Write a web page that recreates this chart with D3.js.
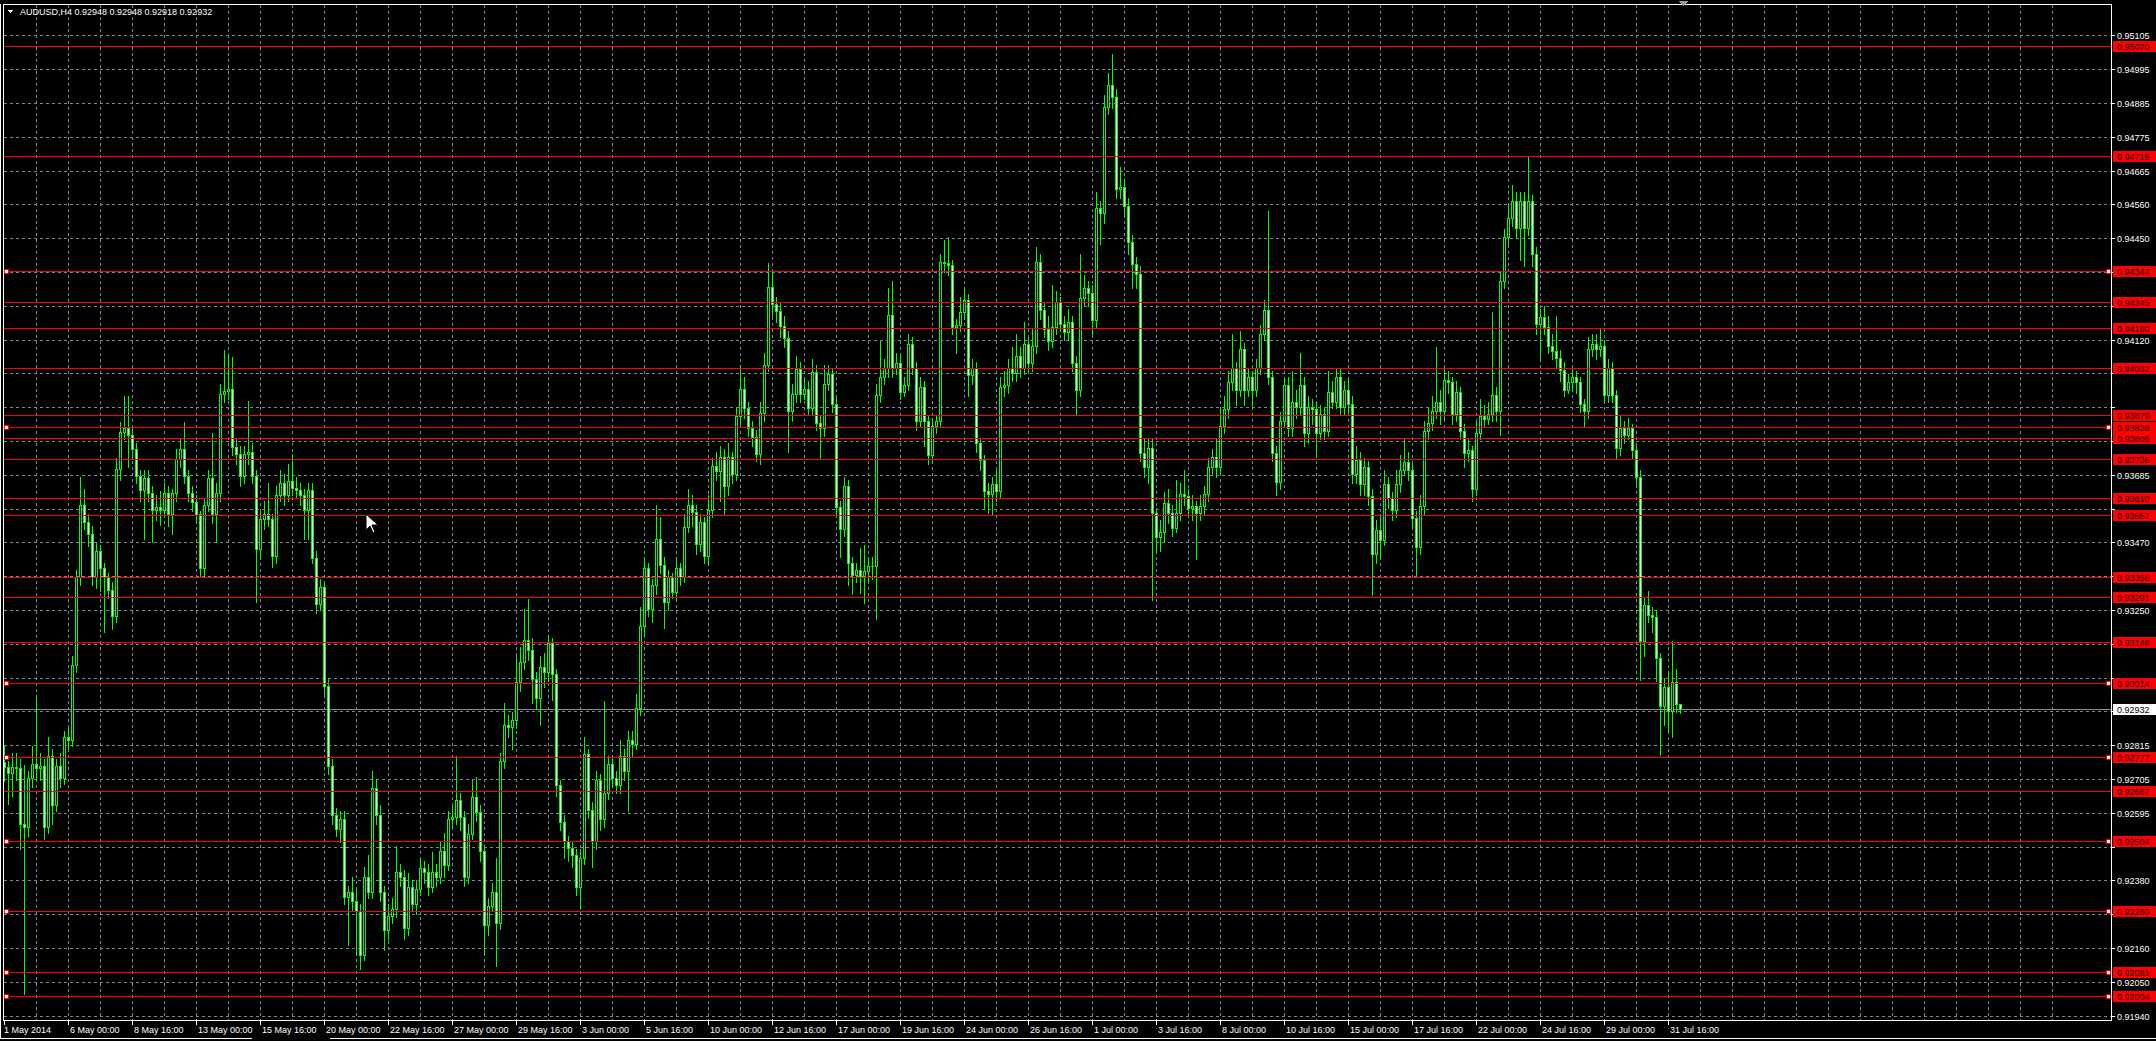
<!DOCTYPE html>
<html>
<head>
<meta charset="utf-8">
<script src="https://cdn.jsdelivr.net/npm/d3@7"></script>
<style>
  html, body { margin: 0; padding: 0; background: #000; overflow: hidden; }
  svg { display: block; }
  text { font-family: "Liberation Sans", Arial, sans-serif; font-size: 9px; }
</style>
</head>
<body>
<div id="mtChart"></div>
<script>
// AUDUSD H4 bars, 1 May - 1 Aug 2014 (open of each bar = close of previous one)
const firstOpen = 0.92760;
const closes = [
  0.92743,0.92723,0.92743,0.92739,0.92559,0.92551,0.92707,0.92754,0.92739,0.92746,
  0.92551,0.92778,0.92622,0.92746,0.92707,0.92840,0.92832,0.93074,0.93355,0.93589,
  0.93534,0.93495,0.93355,0.93441,0.93386,0.93355,0.93316,0.93230,0.93706,0.93823,
  0.93838,0.93815,0.93768,0.93682,0.93636,0.93675,0.93628,0.93573,0.93581,0.93573,
  0.93628,0.93558,0.93628,0.93737,0.93768,0.93682,0.93628,0.93597,0.93558,0.93386,
  0.93589,0.93675,0.93558,0.93628,0.93948,0.93955,0.93963,0.93776,0.93753,0.93682,
  0.93753,0.93760,0.93682,0.93448,0.93542,0.93558,0.93542,0.93425,0.93620,0.93659,
  0.93620,0.93667,0.93643,0.93636,0.93620,0.93573,0.93636,0.93417,0.93269,0.93324,
  0.93004,0.92746,0.92590,0.92544,0.92575,0.92325,0.92341,0.92310,0.92278,0.92138,
  0.92388,0.92341,0.92676,0.92590,0.92341,0.92216,0.92263,0.92286,0.92403,0.92388,
  0.92224,0.92356,0.92302,0.92349,0.92419,0.92403,0.92356,0.92403,0.92388,0.92473,
  0.92427,0.92575,0.92583,0.92637,0.92583,0.92388,0.92528,0.92645,0.92598,0.92473,
  0.92232,0.92294,0.92341,0.92239,0.92762,0.92879,0.92871,0.92895,0.93019,0.93082,
  0.93152,0.93121,0.93027,0.92965,0.93066,0.93051,0.93144,0.93043,0.92684,0.92567,
  0.92505,0.92481,0.92458,0.92356,0.92450,0.92785,0.92606,0.92505,0.92700,0.92575,
  0.92661,0.92754,0.92707,0.92684,0.92778,0.92731,0.92832,0.92817,0.92934,0.93199,
  0.93386,0.93253,0.93331,0.93480,0.93394,0.93277,0.93355,0.93308,0.93386,0.93355,
  0.93519,0.93589,0.93565,0.93464,0.93534,0.93425,0.93573,0.93714,0.93698,0.93745,
  0.93651,0.93745,0.93690,0.93877,0.93963,0.93901,0.93838,0.93807,0.93753,0.93885,
  0.94041,0.94291,0.94236,0.94213,0.94166,0.94127,0.93893,0.93948,0.94026,0.93948,
  0.93963,0.93901,0.94018,0.93854,0.93838,0.93979,0.94010,0.93916,0.93581,0.93511,
  0.93651,0.93402,0.93363,0.93378,0.93360,0.93376,0.93391,0.93391,0.93945,0.94000,
  0.94031,0.94203,0.94031,0.94047,0.93953,0.93976,0.94109,0.94031,0.93859,0.93969,
  0.93859,0.93750,0.93844,0.93859,0.94374,0.94371,0.94362,0.94164,0.94168,0.94210,
  0.94249,0.94008,0.94031,0.93789,0.93735,0.93633,0.93625,0.93657,0.93633,0.93969,
  0.93976,0.94031,0.94015,0.94070,0.94031,0.94109,0.94047,0.94101,0.94374,0.94218,
  0.94156,0.94117,0.94164,0.94242,0.94171,0.94148,0.94179,0.94047,0.93961,0.94257,
  0.94288,0.94273,0.94187,0.94546,0.94530,0.94873,0.94944,0.94905,0.94608,0.94616,
  0.94554,0.94437,0.94366,0.94335,0.93758,0.93711,0.93774,0.93563,0.93485,0.93501,
  0.93594,0.93563,0.93516,0.93563,0.93625,0.93618,0.93579,0.93586,0.93563,0.93586,
  0.93625,0.93711,0.93742,0.93711,0.93844,0.93898,0.93984,0.94031,0.93961,0.94093,
  0.93961,0.94000,0.93961,0.94031,0.94140,0.94218,0.94000,0.93758,0.93664,0.93859,
  0.93976,0.93836,0.93922,0.93906,0.93976,0.93820,0.93906,0.93898,0.93820,0.93883,
  0.93828,0.93953,0.93922,0.94000,0.93906,0.93961,0.93914,0.93688,0.93735,0.93657,
  0.93711,0.93618,0.93430,0.93508,0.93477,0.93657,0.93610,0.93571,0.93657,0.93703,
  0.93727,0.93703,0.93547,0.93454,0.93586,0.93828,0.93852,0.93891,0.93922,0.93891,
  0.93992,0.93984,0.93883,0.93953,0.93828,0.93758,0.93766,0.93641,0.93820,0.93875,
  0.93867,0.93883,0.93945,0.93891,0.94312,0.94452,0.94515,0.94569,0.94483,0.94569,
  0.94483,0.94569,0.94398,0.94171,0.94195,0.94164,0.94101,0.94086,0.94062,0.94023,
  0.93961,0.93984,0.94000,0.93984,0.93914,0.93891,0.94093,0.94109,0.94093,0.94101,
  0.93945,0.94031,0.93945,0.93774,0.93836,0.93813,0.93836,0.93766,0.93680,0.93150,
  0.93267,0.93235,0.93228,0.93095,0.92939,0.93001,0.92923,0.93017,0.92948,0.92932
];
const highs = [
  0.92810,0.92763,0.92790,0.92790,0.92770,0.92750,0.92730,0.92810,0.92973,0.92790,
  0.92770,0.92840,0.92800,0.92770,0.92790,0.92860,0.92870,0.93100,0.93380,0.93680,
  0.93640,0.93560,0.93520,0.93470,0.93460,0.93400,0.93370,0.93340,0.93740,0.93855,
  0.93940,0.93940,0.93840,0.93790,0.93700,0.93700,0.93700,0.93650,0.93620,0.93635,
  0.93660,0.93650,0.93640,0.93770,0.93800,0.93855,0.93700,0.93650,0.93620,0.93570,
  0.93610,0.93700,0.93820,0.93660,0.93980,0.94088,0.94072,0.94065,0.93800,0.93780,
  0.93780,0.93924,0.93790,0.93700,0.93570,0.93600,0.93660,0.93560,0.93650,0.93700,
  0.93690,0.93720,0.93752,0.93680,0.93660,0.93640,0.93660,0.93660,0.93440,0.93350,
  0.93340,0.93030,0.92770,0.92610,0.92600,0.92600,0.92360,0.92390,0.92350,0.92300,
  0.92420,0.92460,0.92731,0.92700,0.92620,0.92360,0.92300,0.92320,0.92490,0.92430,
  0.92410,0.92400,0.92380,0.92380,0.92450,0.92440,0.92430,0.92470,0.92430,0.92500,
  0.92530,0.92600,0.92620,0.92778,0.92660,0.92600,0.92560,0.92700,0.92710,0.92620,
  0.92490,0.92320,0.92370,0.92450,0.92790,0.92950,0.92910,0.92920,0.93100,0.93130,
  0.93253,0.93285,0.93160,0.93050,0.93100,0.93110,0.93170,0.93160,0.93060,0.92700,
  0.92590,0.92520,0.92500,0.92480,0.92480,0.92840,0.92800,0.92630,0.92730,0.92720,
  0.92957,0.92780,0.92780,0.92730,0.92830,0.92800,0.92860,0.92860,0.92980,0.93260,
  0.93420,0.93400,0.93350,0.93590,0.93550,0.93420,0.93380,0.93370,0.93420,0.93400,
  0.93560,0.93640,0.93620,0.93590,0.93560,0.93550,0.93620,0.93740,0.93760,0.93780,
  0.93770,0.93790,0.93760,0.93900,0.94040,0.94000,0.93920,0.93860,0.93830,0.93920,
  0.94080,0.94370,0.94340,0.94260,0.94240,0.94200,0.94150,0.93980,0.94070,0.94050,
  0.94000,0.93990,0.94060,0.94040,0.93880,0.94040,0.94040,0.94030,0.93940,0.93600,
  0.93680,0.93670,0.93420,0.93400,0.93450,0.93460,0.93420,0.93420,0.93980,0.94117,
  0.94060,0.94288,0.94312,0.94080,0.94070,0.94000,0.94140,0.94130,0.94050,0.94000,
  0.93990,0.93880,0.93870,0.93880,0.94400,0.94444,0.94452,0.94380,0.94190,0.94260,
  0.94290,0.94270,0.94060,0.94050,0.93800,0.93750,0.93660,0.93680,0.93700,0.94000,
  0.94020,0.94060,0.94100,0.94140,0.94100,0.94180,0.94130,0.94160,0.94420,0.94400,
  0.94240,0.94200,0.94300,0.94280,0.94260,0.94200,0.94220,0.94200,0.94070,0.94400,
  0.94330,0.94310,0.94300,0.94600,0.94570,0.94910,0.94983,0.95045,0.94930,0.94680,
  0.94640,0.94580,0.94460,0.94390,0.94360,0.93800,0.93800,0.93800,0.93580,0.93540,
  0.93630,0.93640,0.93590,0.93670,0.93660,0.93700,0.93640,0.93620,0.93600,0.93620,
  0.93650,0.93740,0.93770,0.93800,0.93900,0.93940,0.94020,0.94140,0.94050,0.94150,
  0.94110,0.94030,0.94020,0.94060,0.94170,0.94250,0.94538,0.94020,0.93780,0.93890,
  0.94000,0.94000,0.94020,0.93960,0.94080,0.94000,0.93940,0.93930,0.93920,0.93910,
  0.93900,0.94020,0.93990,0.94030,0.94030,0.93990,0.94000,0.93940,0.93780,0.93760,
  0.93740,0.93730,0.93640,0.93540,0.93560,0.93700,0.93680,0.93630,0.93700,0.93750,
  0.93800,0.93760,0.93720,0.93570,0.93620,0.93860,0.93900,0.93940,0.94100,0.93960,
  0.94030,0.94020,0.94000,0.93990,0.93970,0.93850,0.93800,0.93780,0.93860,0.93930,
  0.93910,0.93920,0.94210,0.93970,0.94340,0.94480,0.94560,0.94620,0.94600,0.94600,
  0.94600,0.94710,0.94590,0.94420,0.94220,0.94230,0.94200,0.94140,0.94200,0.94090,
  0.94050,0.94010,0.94030,0.94020,0.94000,0.93930,0.94130,0.94140,0.94140,0.94160,
  0.94120,0.94060,0.94050,0.93960,0.93880,0.93860,0.93870,0.93850,0.93790,0.93700,
  0.93290,0.93310,0.93260,0.93250,0.93110,0.93030,0.93050,0.93150,0.93060,0.92948
];
const lows = [
  0.92698,0.92623,0.92650,0.92700,0.92480,0.92010,0.92520,0.92680,0.92700,0.92700,
  0.92510,0.92530,0.92560,0.92600,0.92680,0.92690,0.92800,0.92810,0.93050,0.93330,
  0.93510,0.93455,0.93330,0.93320,0.93310,0.93180,0.93290,0.93190,0.93210,0.93670,
  0.93800,0.93710,0.93740,0.93660,0.93600,0.93480,0.93600,0.93470,0.93540,0.93525,
  0.93550,0.93520,0.93495,0.93600,0.93710,0.93660,0.93600,0.93570,0.93530,0.93360,
  0.93360,0.93570,0.93530,0.93470,0.93600,0.93920,0.93930,0.93750,0.93720,0.93650,
  0.93660,0.93720,0.93660,0.93277,0.93420,0.93510,0.93520,0.93390,0.93400,0.93600,
  0.93590,0.93600,0.93620,0.93610,0.93590,0.93480,0.93480,0.93400,0.93240,0.93250,
  0.92980,0.92720,0.92560,0.92520,0.92500,0.92300,0.92169,0.92280,0.92140,0.92091,
  0.92120,0.92320,0.92320,0.92560,0.92310,0.92154,0.92190,0.92240,0.92260,0.92360,
  0.92190,0.92200,0.92280,0.92270,0.92330,0.92370,0.92330,0.92340,0.92360,0.92370,
  0.92390,0.92410,0.92550,0.92560,0.92540,0.92360,0.92370,0.92510,0.92570,0.92440,
  0.92140,0.92200,0.92280,0.92100,0.92220,0.92740,0.92840,0.92800,0.92870,0.92990,
  0.93060,0.93090,0.92950,0.92930,0.92880,0.93000,0.93020,0.92960,0.92650,0.92540,
  0.92450,0.92440,0.92420,0.92330,0.92286,0.92430,0.92580,0.92420,0.92480,0.92540,
  0.92550,0.92640,0.92680,0.92660,0.92660,0.92700,0.92600,0.92780,0.92800,0.92910,
  0.93170,0.93230,0.93210,0.93300,0.93370,0.93191,0.93250,0.93290,0.93280,0.93330,
  0.93340,0.93500,0.93520,0.93430,0.93440,0.93400,0.93400,0.93550,0.93670,0.93600,
  0.93560,0.93620,0.93660,0.93670,0.93850,0.93870,0.93810,0.93780,0.93730,0.93720,
  0.93860,0.94020,0.94200,0.94180,0.94130,0.94100,0.93760,0.93860,0.93920,0.93920,
  0.93930,0.93880,0.93880,0.93830,0.93740,0.93810,0.93960,0.93890,0.93560,0.93420,
  0.93490,0.93330,0.93300,0.93340,0.93306,0.93274,0.93340,0.93350,0.93220,0.93920,
  0.93980,0.94000,0.94000,0.94010,0.93930,0.93940,0.93960,0.94010,0.93830,0.93840,
  0.93780,0.93720,0.93730,0.93820,0.93840,0.94340,0.94330,0.94140,0.94080,0.94150,
  0.94190,0.93940,0.93980,0.93760,0.93700,0.93580,0.93563,0.93560,0.93600,0.93610,
  0.93940,0.93950,0.93990,0.93990,0.94000,0.94010,0.94020,0.94020,0.94080,0.94190,
  0.94130,0.94090,0.94100,0.94140,0.94150,0.94120,0.94120,0.94020,0.93883,0.93940,
  0.94230,0.94230,0.94140,0.94160,0.94430,0.94500,0.94850,0.94870,0.94580,0.94580,
  0.94520,0.94400,0.94290,0.94290,0.93730,0.93680,0.93660,0.93282,0.93440,0.93440,
  0.93470,0.93530,0.93490,0.93500,0.93540,0.93590,0.93550,0.93540,0.93415,0.93540,
  0.93560,0.93600,0.93690,0.93680,0.93690,0.93820,0.93870,0.93960,0.93910,0.93940,
  0.93910,0.93940,0.93900,0.93940,0.94010,0.94120,0.93980,0.93730,0.93620,0.93640,
  0.93840,0.93810,0.93810,0.93870,0.93880,0.93780,0.93790,0.93850,0.93742,0.93800,
  0.93800,0.93810,0.93900,0.93900,0.93880,0.93880,0.93890,0.93660,0.93660,0.93620,
  0.93620,0.93590,0.93298,0.93400,0.93420,0.93460,0.93580,0.93540,0.93550,0.93630,
  0.93690,0.93670,0.93520,0.93360,0.93430,0.93560,0.93800,0.93830,0.93870,0.93850,
  0.93870,0.93950,0.93850,0.93860,0.93800,0.93710,0.93730,0.93600,0.93620,0.93800,
  0.93840,0.93850,0.93860,0.93860,0.93813,0.94290,0.94430,0.94490,0.94450,0.94380,
  0.94360,0.94460,0.94360,0.94140,0.94060,0.94140,0.94080,0.94060,0.94030,0.93990,
  0.93940,0.93950,0.93960,0.93950,0.93890,0.93844,0.93870,0.94070,0.94060,0.94070,
  0.93920,0.93920,0.93920,0.93740,0.93750,0.93790,0.93800,0.93740,0.93650,0.93025,
  0.93100,0.93210,0.93180,0.93020,0.92783,0.92880,0.92860,0.92840,0.92920,0.92918
];

// time axis: one label every 16 bars
const timeLabels = [
  "1 May 2014","6 May 00:00","8 May 16:00","13 May 00:00","15 May 16:00","20 May 00:00",
  "22 May 16:00","27 May 00:00","29 May 16:00","3 Jun 00:00","5 Jun 16:00","10 Jun 00:00",
  "12 Jun 16:00","17 Jun 00:00","19 Jun 16:00","24 Jun 00:00","26 Jun 16:00","1 Jul 00:00",
  "3 Jul 16:00","8 Jul 00:00","10 Jul 16:00","15 Jul 00:00","17 Jul 16:00","22 Jul 00:00",
  "24 Jul 16:00","29 Jul 00:00","31 Jul 16:00"
];
// price scale grid labels
const priceTicks = [
  0.95105,0.94995,0.94885,0.94775,0.94665,0.94560,0.94450,0.94340,0.94230,0.94120,
  0.94015,0.93905,0.93795,0.93685,0.93575,0.93470,0.93360,0.93250,0.93140,0.93030,
  0.92925,0.92815,0.92705,0.92595,0.92485,0.92380,0.92270,0.92160,0.92050,0.91940
];
// horizontal level lines drawn on the chart
const levelPrices = [
  0.95070,0.94715,0.94344,0.94245,0.94160,0.94032,0.93879,0.93839,0.93805,0.93736,0.93610,
  0.93557,0.93356,0.93291,0.93148,0.93014,0.92777,0.92667,0.92504,0.92280,0.92081,0.92004
];
// levels that are selected (small handles at both ends)
const selectedLevels = [0.94344,0.93839,0.93014,0.92777,0.92504,0.92280,0.92081,0.92004];
const lastPrice = 0.92932;
const headerText = "AUDUSD,H4  0.92948 0.92948 0.92918 0.92932";

const width = 2156;
const height = 1041;
const frame = { left: 3, top: 4, right: 2111, bottom: 1020 };
const green = "#00ff00";
const gridColor = "#778899";

const opens = closes.map((c, i) => (i === 0 ? firstOpen : closes[i - 1]));

const xScale = d3.scaleLinear().domain([0, 1]).range([4, 8]);          // bar -> pixel column
const yScale = d3.scaleLinear().domain([0.91940, 0.95105]).range([1016, 35]);
const py = (p) => Math.round(yScale(p)) + 0.5;

const svg = d3.select("#mtChart")
  .append("svg")
    .attr("width", width)
    .attr("height", height)
    .attr("shape-rendering", "crispEdges");

svg.append("rect").attr("width", width).attr("height", height).attr("fill", "#000");

const plot = svg.append("g");

// dotted grid
const gridCols = d3.range(8, 520, 8);
plot.selectAll(".vgrid")
  .data(gridCols)
  .enter().append("line")
    .attr("x1", (d) => xScale(d) + 0.5).attr("x2", (d) => xScale(d) + 0.5)
    .attr("y1", frame.top + 1).attr("y2", frame.bottom)
    .attr("stroke", gridColor)
    .attr("stroke-dasharray", "3,3");

plot.selectAll(".hgrid")
  .data(priceTicks)
  .enter().append("line")
    .attr("x1", frame.left + 1).attr("x2", frame.right)
    .attr("y1", (d) => py(d)).attr("y2", (d) => py(d))
    .attr("stroke", gridColor)
    .attr("stroke-dasharray", "3,3");

// bid line
plot.append("line")
  .attr("x1", frame.left + 1).attr("x2", frame.right)
  .attr("y1", py(lastPrice)).attr("y2", py(lastPrice))
  .attr("stroke", "#8c8c8c");

// candles
const bars = plot.selectAll(".bar")
  .data(closes.map((c, i) => ({ i, o: opens[i], h: highs[i], l: lows[i], c })))
  .enter().append("g");

bars.append("line")
  .attr("x1", (d) => xScale(d.i) + 0.5).attr("x2", (d) => xScale(d.i) + 0.5)
  .attr("y1", (d) => Math.round(yScale(d.h))).attr("y2", (d) => Math.round(yScale(d.l)) + 1)
  .attr("stroke", green);

bars.each(function (d) {
  const g = d3.select(this);
  const top = Math.round(yScale(Math.max(d.o, d.c)));
  const bot = Math.round(yScale(Math.min(d.o, d.c)));
  const cx = xScale(d.i);
  if (bot - top < 1) {
    g.append("line")
      .attr("x1", cx - 1).attr("x2", cx + 2)
      .attr("y1", top + 0.5).attr("y2", top + 0.5)
      .attr("stroke", green);
  } else {
    g.append("rect")
      .attr("x", cx - 0.5).attr("y", top + 0.5)
      .attr("width", 2).attr("height", bot - top)
      .attr("fill", d.c < d.o ? "#fff" : "#000")
      .attr("stroke", green);
  }
});

// level lines with handles
plot.selectAll(".level")
  .data(levelPrices)
  .enter().append("line")
    .attr("x1", frame.left + 1).attr("x2", frame.right)
    .attr("y1", (d) => py(d)).attr("y2", (d) => py(d))
    .attr("stroke", "#ff0000");

[6, 2108].forEach((hx) => {
  plot.selectAll(null)
    .data(selectedLevels)
    .enter().append("rect")
      .attr("x", hx - 2).attr("y", (d) => py(d) - 2.5)
      .attr("width", 4).attr("height", 4)
      .attr("fill", "#fff")
      .attr("stroke", "#ff0000");
});

// frame and window borders
svg.append("rect")
  .attr("x", frame.left + 0.5).attr("y", frame.top + 0.5)
  .attr("width", frame.right - frame.left).attr("height", frame.bottom - frame.top)
  .attr("fill", "none").attr("stroke", "#fff");
svg.append("line").attr("x1", 0.5).attr("x2", 0.5).attr("y1", 4).attr("y2", 1038).attr("stroke", "#fff");
svg.append("line").attr("x1", 0).attr("x2", 252).attr("y1", 1038.5).attr("y2", 1038.5).attr("stroke", "#fff");
svg.append("line").attr("x1", 330).attr("x2", width).attr("y1", 1038.5).attr("y2", 1038.5).attr("stroke", "#fff");

// price scale; grid labels hidden under a tag are not drawn
const tagPrices = levelPrices.concat([lastPrice]);
const visibleTicks = priceTicks.filter((p) => tagPrices.every((t) => Math.abs(py(p) - py(t)) >= 9));

const axisG = svg.append("g");
axisG.selectAll(".ptick")
  .data(priceTicks)
  .enter().append("line")
    .attr("x1", frame.right + 1).attr("x2", frame.right + 4)
    .attr("y1", (d) => py(d)).attr("y2", (d) => py(d))
    .attr("stroke", "#fff");
axisG.selectAll(".plabel")
  .data(visibleTicks)
  .enter().append("text")
    .attr("x", 2117).attr("y", (d) => py(d) + 3.5)
    .attr("fill", "#fff")
    .text((d) => d.toFixed(5));

const levelTags = axisG.selectAll(".ltag")
  .data(levelPrices)
  .enter().append("g");
levelTags.append("rect")
  .attr("x", 2113).attr("y", (d) => py(d) - 6)
  .attr("width", width - 2113).attr("height", 11)
  .attr("fill", "#ff0000");
levelTags.append("text")
  .attr("x", 2117).attr("y", (d) => py(d) + 3.5)
  .attr("fill", "#1a0000")
  .text((d) => d.toFixed(5));

axisG.append("rect")
  .attr("x", 2113).attr("y", py(lastPrice) - 6)
  .attr("width", width - 2113).attr("height", 11)
  .attr("fill", "#fff");
axisG.append("text")
  .attr("x", 2117).attr("y", py(lastPrice) + 3.5)
  .attr("fill", "#000")
  .text(lastPrice.toFixed(5));

// time scale
const timeG = svg.append("g");
timeG.selectAll(".ttick")
  .data(timeLabels)
  .enter().append("line")
    .attr("x1", (d, k) => xScale(k * 16) + 0.5).attr("x2", (d, k) => xScale(k * 16) + 0.5)
    .attr("y1", frame.bottom + 1).attr("y2", frame.bottom + 5)
    .attr("stroke", "#fff");
timeG.selectAll(".tlabel")
  .data(timeLabels)
  .enter().append("text")
    .attr("x", (d, k) => (k === 0 ? 4 : xScale(k * 16) + 2))
    .attr("y", 1033)
    .attr("fill", "#fff")
    .text((d) => d);

// header
svg.append("path").attr("d", "M7,10 L13,10 L10,13 Z").attr("fill", "#fff");
svg.append("text").attr("x", 20).attr("y", 15).attr("fill", "#fff").text(headerText);

// chart shift marker and mouse pointer
svg.append("path").attr("d", "M1679,1 L1688,1 L1683.5,6 Z").attr("fill", "#9a9a9a");
svg.append("path")
  .attr("d", "M366,514 L366,530 L370,526 L373,533 L375,532 L372,525 L378,525 Z")
  .attr("fill", "#fff").attr("stroke", "#000").attr("shape-rendering", "auto");
</script>
</body>
</html>
